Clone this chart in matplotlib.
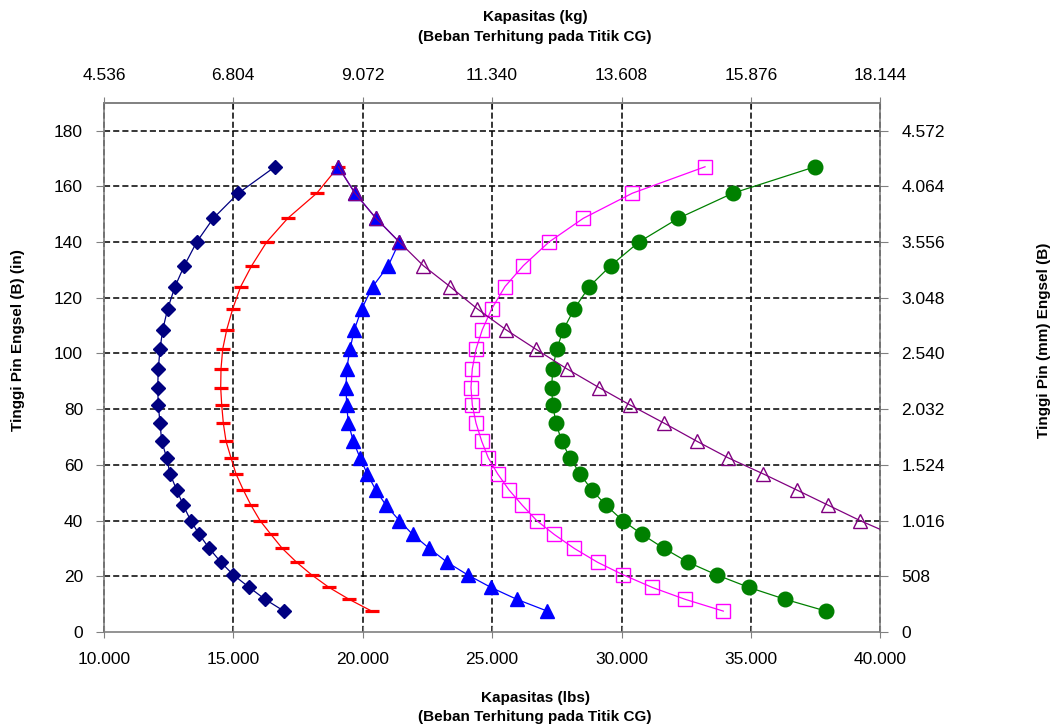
import matplotlib
matplotlib.use("Agg")
import matplotlib.pyplot as plt

plt.rcParams['font.family'] = ['Liberation Sans', 'DejaVu Sans']

# Shared heights (in)
heights = [7.5, 11.75, 16, 20.5, 25, 30, 35, 40, 45.5, 51, 56.75, 62.5, 68.5, 75,
           81.5, 87.75, 94.5, 101.5, 108.5, 116, 124, 131.5, 140, 148.5, 157.5, 167]

# Capacities (lbs) per series, ordered by height
navy_diamond = [16959, 16225, 15618, 15000, 14525, 14073, 13686, 13354, 13068, 12813,
                12554, 12427, 12233, 12168, 12102, 12079, 12102, 12168, 12272, 12465,
                12747, 13107, 13586, 14227, 15193, 16611]
red_dash = [20348, 19471, 18698, 18029, 17450, 16893, 16457, 16032, 15684, 15386,
            15104, 14911, 14718, 14614, 14552, 14513, 14525, 14590, 14745, 14977,
            15286, 15711, 16290, 17102, 18223, 19057]
blue_tri = [27133, 25950, 24957, 24057, 23269, 22574, 21932, 21414, 20900, 20502,
            20178, 19896, 19637, 19444, 19382, 19355, 19382, 19509, 19676, 19961,
            20386, 20989, 21414, 20514, 19702, 19057]
purple_heights = [35, 40, 45.5, 51, 56.75, 62.5, 68.5, 75, 81.5, 87.75, 94.5, 101.5,
                  108.5, 116, 124, 131.5, 140, 148.5, 157.5, 167]
purple_open_tri = [40450, 39216, 37991, 36769, 35479, 34127, 32906, 31642, 30329, 29131,
                   27883, 26696, 25537, 24428, 23373, 22342, 21414, 20514, 19702, 19057]
magenta_square = [33934, 32454, 31190, 30070, 29080, 28176, 27403, 26723, 26167, 25653,
                  25216, 24853, 24598, 24378, 24235, 24184, 24235, 24378, 24621, 24985,
                  25498, 26206, 27199, 28524, 30417, 33227]
green_circle = [37903, 36318, 34927, 33678, 32581, 31642, 30804, 30046, 29402, 28849,
                28397, 28011, 27689, 27469, 27342, 27303, 27342, 27496, 27751, 28176,
                28756, 29583, 30676, 32195, 34297, 37477]

# Axis ticks and labels
x_ticks = [10000, 15000, 20000, 25000, 30000, 35000, 40000]
x_labels = ["10.000", "15.000", "20.000", "25.000", "30.000", "35.000", "40.000"]
kg_labels = ["4.536", "6.804", "9.072", "11.340", "13.608", "15.876", "18.144"]
y_ticks = [0, 20, 40, 60, 80, 100, 120, 140, 160, 180]
mm_labels = ["0", "508", "1.016", "1.524", "2.032", "2.540", "3.048", "3.556", "4.064", "4.572"]

W, H = 1060, 727
fig = plt.figure(figsize=(W / 100, H / 100), dpi=100)
ax = fig.add_axes([103.9 / W, 1 - 632 / H, (880.3 - 103.9) / W, (632 - 102.7) / H])
ax.set_xlim(10000, 40000)
ax.set_ylim(0, 190)

grid_kw = dict(color='black', linewidth=1.1, linestyle=(0, (4, 2)), zorder=1)
for xv in x_ticks[1:-1]:
    ax.axvline(xv, **grid_kw)
for yv in y_ticks[1:]:
    ax.axhline(yv, **grid_kw)
ax.axvline(10000, clip_on=False, **grid_kw)
ax.axvline(40000, clip_on=False, **grid_kw)

lw = 0.9
ax.plot(navy_diamond, heights, color='#000080', lw=lw, marker='D', ms=7,
        mfc='#000080', mec='#000080', zorder=3)
ax.plot(red_dash, heights, color='#FF0000', lw=lw, marker='_', ms=9.5, mew=2.3,
        mec='#FF0000', zorder=3)
ax.plot(blue_tri, heights, color='#0000FF', lw=lw, marker='^', ms=10,
        mfc='#0000FF', mec='#0000FF', zorder=3)
ax.plot(purple_open_tri, purple_heights, color='#800080', lw=lw, marker='^', ms=10,
        mfc='none', mec='#800080', mew=1.0, zorder=4)
ax.plot(magenta_square, heights, color='#FF00FF', lw=lw, marker='s', ms=10,
        mfc='none', mec='#FF00FF', mew=1.0, zorder=3)
ax.plot(green_circle, heights, color='#008000', lw=lw, marker='o', ms=10.5,
        mfc='#008000', mec='#008000', zorder=3)

for s in ax.spines.values():
    s.set_color('#808080')
    s.set_linewidth(1.2)

fs = 12.5
ax.set_xticks(x_ticks)
ax.set_xticklabels(x_labels)
ax.set_yticks(y_ticks)
ax.tick_params(axis='x', direction='inout', length=9, color='#808080', labelsize=fs, pad=10)
ax.tick_params(axis='y', direction='out', length=6, color='#808080', labelsize=fs, pad=9)

top = ax.secondary_xaxis('top')
top.set_xticks(x_ticks, kg_labels)
top.tick_params(direction='inout', length=9, color='#808080', labelsize=fs, pad=10)
top.spines['top'].set_color('#808080')
top.spines['top'].set_linewidth(1.2)

right = ax.secondary_yaxis('right')
right.set_yticks(y_ticks, mm_labels)
right.tick_params(direction='out', length=6, color='#808080', labelsize=fs, pad=9)
right.spines['right'].set_visible(False)

tfs = 11
def ftext(xp, yp, s, **kw):
    fig.text(xp / W, 1 - yp / H, s, fontsize=tfs, fontweight='bold',
             ha='center', va='center', **kw)

ftext(535, 17, "Kapasitas (kg)")
ftext(535, 37, "(Beban Terhitung pada Titik CG)")
ftext(535, 698, "Kapasitas (lbs)")
ftext(535, 717, "(Beban Terhitung pada Titik CG)")
ftext(18, 340, "Tinggi Pin Engsel (B) (in)", rotation=90)
ftext(1044, 340, "Tinggi Pin (mm) Engsel (B)", rotation=90)

fig.savefig("out.png", dpi=100)
